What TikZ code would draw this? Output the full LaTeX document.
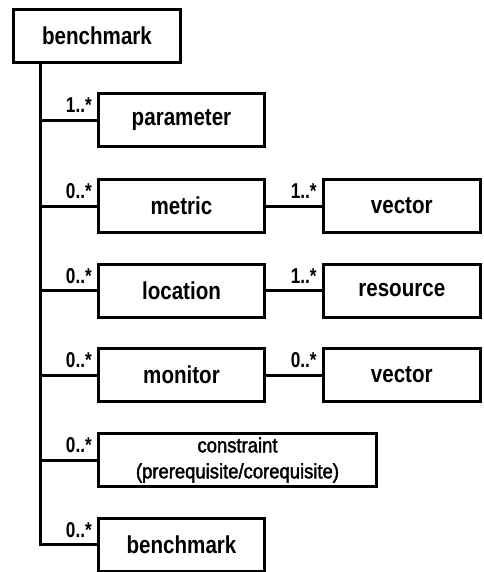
\documentclass[tikz,border=0pt]{standalone}
\usepackage{fontspec}
\newfontfamily\boxfont{Liberation Sans}[FakeStretch=0.84]
\newfontfamily\multfont{Liberation Sans}[FakeStretch=0.8]
\newfontfamily\smallfont{Liberation Sans}[FakeStretch=0.9,FakeBold=2]
\begin{document}
\begin{tikzpicture}[x=1pt,y=-1pt,
  cls/.style={draw, line width=3pt, minimum height=53pt, inner sep=0pt,
    font=\boxfont\bfseries\fontsize{24.5}{27}\selectfont},
  small/.style={cls, minimum width=166pt},
  right/.style={cls, minimum width=157pt},
  link/.style={line width=3pt},
  mult/.style={anchor=base east, inner sep=0pt,
    font=\multfont\bfseries\fontsize{21.5}{23}\selectfont}]
\useasboundingbox (0,0) rectangle (483,572);

\node[cls, minimum width=167pt] (top) at (97,36) {benchmark};
\node[small] (param)  at (181.5,120.5) {parameter};
\node[small] (metric) at (181.5,206) {metric};
\node[small] (loc)    at (181.5,290.5) {location};
\node[small] (mon)    at (181.5,375) {monitor};
\node[cls, minimum width=278pt, align=center,
  font=\smallfont\fontsize{20.5}{26}\selectfont] (cons) at (237.5,460)
  {constraint\\(prerequisite/corequisite)};
\node[small] (bench2) at (181.5,544.5) {benchmark};

\node[right] (vec1) at (401.8,206) {vector};
\node[right] (res)  at (401.8,290.5) {resource};
\node[right] (vec2) at (401.8,375) {vector};

\coordinate (t0) at (40,36);

\draw[link] (top.south -| t0) -- (bench2.west -| t0) -- (bench2.west);
\foreach \n in {param,metric,loc,mon,cons}
  \draw[link] (\n.west -| t0) -- (\n.west);
\draw[link] (metric) -- (vec1);
\draw[link] (loc) -- (res);
\draw[link] (mon) -- (vec2);

\node[mult] (mparam)  at ([xshift=-5pt,yshift=7.5pt]param.west) {1..*};
\node[mult] (mmetric) at ([xshift=-5pt,yshift=7.5pt]metric.west) {0..*};
\node[mult] (mloc)    at ([xshift=-5pt,yshift=7.5pt]loc.west) {0..*};
\node[mult] (mmon)    at ([xshift=-5pt,yshift=7.5pt]mon.west) {0..*};
\node[mult] (mcons)   at ([xshift=-5pt,yshift=7.5pt]cons.west) {0..*};
\node[mult] (mbench)  at ([xshift=-5pt,yshift=7.5pt]bench2.west) {0..*};
\node[mult] (mvec1)   at ([xshift=-5pt,yshift=7.5pt]vec1.west) {1..*};
\node[mult] (mres)    at ([xshift=-5pt,yshift=7.5pt]res.west) {1..*};
\node[mult] (mvec2)   at ([xshift=-5pt,yshift=7.5pt]vec2.west) {0..*};
\end{tikzpicture}
\end{document}
